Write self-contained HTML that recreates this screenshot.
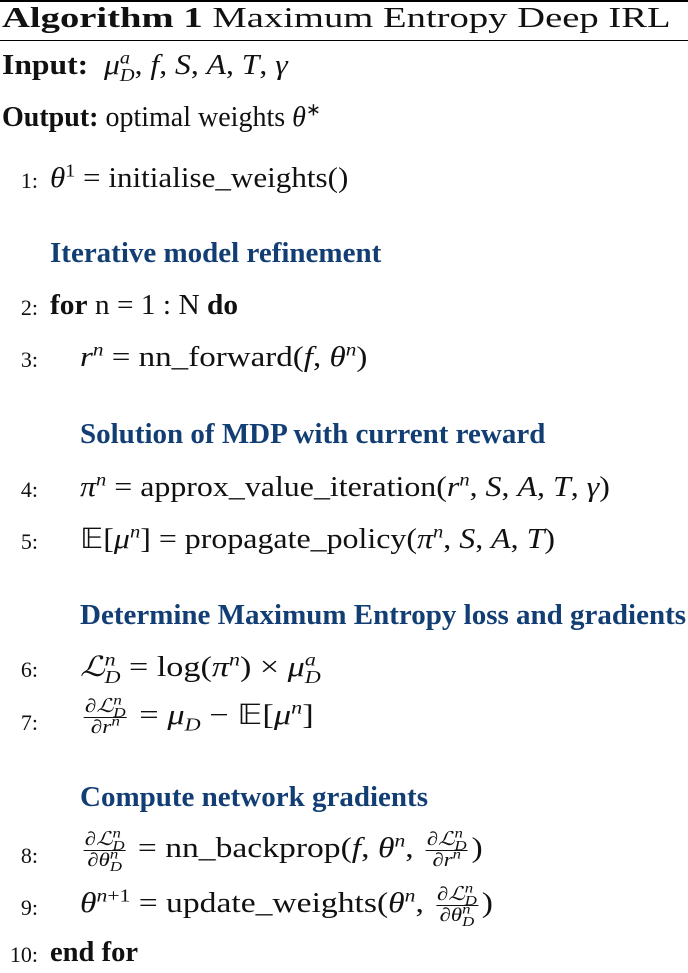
<!DOCTYPE html>
<html><head><meta charset="utf-8"><style>
body{margin:0;width:688px;height:973px;background:#fff;position:relative;overflow:hidden;font-family:"Liberation Serif",serif;color:#111}
.l{position:absolute;font-size:28px;line-height:1;white-space:nowrap;transform-origin:0 50%}
.n{position:absolute;font-size:22px;line-height:1;width:38px;text-align:right;left:0}
i{font-style:italic}
b{font-weight:bold}
.h{color:#123e74;font-weight:bold}
sup,sub{font-size:18px;line-height:0}
.fr{display:inline-block;vertical-align:middle;text-align:center;font-size:19px;line-height:1.05;margin:0 3px}
.fr span{display:block;padding:0 1px}
.fr .t{border-bottom:1.3px solid #111}
.fr sup,.fr sub{font-size:14px}
</style></head><body>
<div style="position:absolute;left:0;top:0;width:688px;height:2px;background:#000"></div>
<div style="position:absolute;left:0;top:40px;width:688px;height:1px;background:#000"></div>
<div class="l" style="left:2px;top:5px;transform:scaleX(1.38)"><b>Algorithm 1</b> Maximum Entropy Deep IRL</div>
<div class="l" style="left:2px;top:52px;transform:scaleX(1.13)"><b>Input:</b>&nbsp; <i>μ</i><sup><i>a</i></sup><sub style="margin-left:-9px"><i>D</i></sub>, <i>f</i>, <i>S</i>, <i>A</i>, <i>T</i>, <i>γ</i></div>
<div class="l" style="left:2px;top:104px"><b>Output:</b> optimal weights <i>θ</i><sup>∗</sup></div>
<div class="n" style="top:170px">1:</div>
<div class="l" style="left:50px;top:165px;transform:scaleX(1.11)"><i>θ</i><sup>1</sup> = initialise_weights()</div>
<div class="l h" style="left:50px;top:239px;font-size:29px">Iterative model refinement</div>
<div class="n" style="top:297px">2:</div>
<div class="l" style="left:50px;top:292px;transform:scaleX(1.05)"><b>for</b> n = 1 : N <b>do</b></div>
<div class="n" style="top:349px">3:</div>
<div class="l" style="left:80px;top:344px;transform:scaleX(1.18)"><i>r</i><sup><i>n</i></sup> = nn_forward(<i>f</i>, <i>θ</i><sup><i>n</i></sup>)</div>
<div class="l h" style="left:80px;top:420px;font-size:29px">Solution of MDP with current reward</div>
<div class="n" style="top:479px">4:</div>
<div class="l" style="left:80px;top:474px;transform:scaleX(1.14)"><i>π</i><sup><i>n</i></sup> = approx_value_iteration(<i>r</i><sup><i>n</i></sup>, <i>S</i>, <i>A</i>, <i>T</i>, <i>γ</i>)</div>
<div class="n" style="top:531px">5:</div>
<div class="l" style="left:80px;top:526px;transform:scaleX(1.14)">𝔼[<i>μ</i><sup><i>n</i></sup>] = propagate_policy(<i>π</i><sup><i>n</i></sup>, <i>S</i>, <i>A</i>, <i>T</i>)</div>
<div class="l h" style="left:80px;top:601px;font-size:29px">Determine Maximum Entropy loss and gradients</div>
<div class="n" style="top:659px">6:</div>
<div class="l" style="left:80px;top:654px;transform:scaleX(1.22)"><i>ℒ</i><sup><i>n</i></sup><sub style="margin-left:-9px"><i>D</i></sub> = log(<i>π</i><sup><i>n</i></sup>) × <i>μ</i><sup><i>a</i></sup><sub style="margin-left:-9px"><i>D</i></sub></div>
<div class="n" style="top:712px">7:</div>
<div class="l" style="left:80px;top:697px;transform:scaleX(1.23)"><span class="fr"><span class="t">∂<i>ℒ</i><sup><i>n</i></sup><sub style="margin-left:-7px"><i>D</i></sub></span><span>∂<i>r</i><sup><i>n</i></sup></span></span> = <i>μ</i><sub><i>D</i></sub> − 𝔼[<i>μ</i><sup><i>n</i></sup>]</div>
<div class="l h" style="left:80px;top:783px;font-size:29px">Compute network gradients</div>
<div class="n" style="top:845px">8:</div>
<div class="l" style="left:80px;top:830px;transform:scaleX(1.2)"><span class="fr"><span class="t">∂<i>ℒ</i><sup><i>n</i></sup><sub style="margin-left:-7px"><i>D</i></sub></span><span>∂<i>θ</i><sup><i>n</i></sup><sub style="margin-left:-7px"><i>D</i></sub></span></span> = nn_backprop(<i>f</i>, <i>θ</i><sup><i>n</i></sup>, <span class="fr"><span class="t">∂<i>ℒ</i><sup><i>n</i></sup><sub style="margin-left:-7px"><i>D</i></sub></span><span>∂<i>r</i><sup><i>n</i></sup></span></span>)</div>
<div class="n" style="top:897px">9:</div>
<div class="l" style="left:80px;top:885px;transform:scaleX(1.2)"><i>θ</i><sup><i>n</i>+1</sup> = update_weights(<i>θ</i><sup><i>n</i></sup>, <span class="fr"><span class="t">∂<i>ℒ</i><sup><i>n</i></sup><sub style="margin-left:-7px"><i>D</i></sub></span><span>∂<i>θ</i><sup><i>n</i></sup><sub style="margin-left:-7px"><i>D</i></sub></span></span>)</div>
<div class="n" style="top:944px">10:</div>
<div class="l" style="left:50px;top:939px;transform:scaleX(1.02)"><b>end for</b></div>
</body></html>
